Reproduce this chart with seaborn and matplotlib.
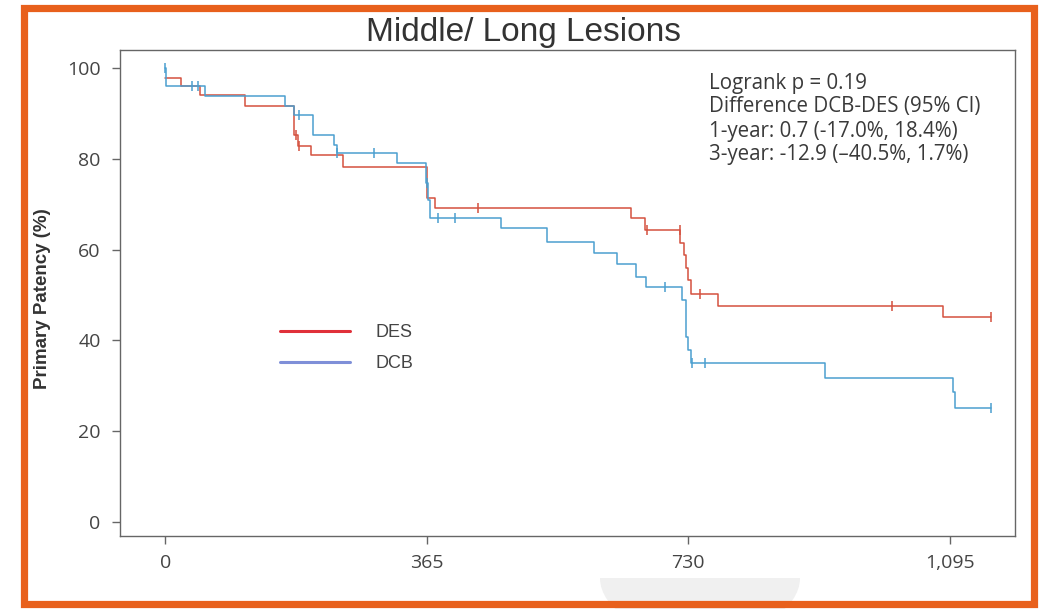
import numpy as np
import pandas as pd
import matplotlib
matplotlib.use("Agg")
import matplotlib.pyplot as plt
import seaborn as sns
from matplotlib.lines import Line2D
from matplotlib.patches import Rectangle, Wedge

# ---- data ----
des_days = [0, 22, 48, 111, 180, 186, 203, 248, 365, 376, 650, 670, 719, 724, 727, 730, 734, 772, 1085, 1152]
des_surv = [97.9, 96.0, 94.1, 91.6, 85.2, 82.8, 80.9, 78.3, 71.4, 69.1, 66.9, 64.3, 61.4, 58.8, 55.9, 53.3, 50.2, 47.6, 45.1, 45.1]
des_censor = [182, 187, 436, 672, 718, 746, 1014, 1152]

dcb_days = [0, 1, 55, 167, 180, 207, 235, 240, 323, 364, 367, 370, 468, 533, 599, 630, 657, 671, 721, 727, 730, 734, 921, 1100, 1102, 1152]
dcb_surv = [100, 96.0, 93.9, 91.6, 89.6, 85.2, 83.0, 81.2, 79.0, 74.6, 71.0, 66.9, 64.7, 61.7, 59.3, 56.8, 54.0, 51.7, 48.9, 40.8, 37.9, 35.0, 31.8, 28.7, 25.2, 25.2]
dcb_censor = [0, 38, 46, 187, 240, 291, 365, 381, 405, 697, 735, 753, 1152]

x_ticks = [0, 365, 730, 1095]
x_tick_labels = ["0", "365", "730", "1,095"]
y_ticks = [0, 20, 40, 60, 80, 100]

title = "Middle/ Long Lesions"
ylabel = "Primary Patency (%)"
annot_lines = ["Logrank p = 0.19",
               "Difference DCB-DES (95% CI)",
               "1-year: 0.7 (-17.0%, 18.4%)",
               "3-year: -12.9 (\u201340.5%, 1.7%)"]
legend_labels = ["DES", "DCB"]

curve_colors = {"DES": "#d4513f", "DCB": "#4b9fd0"}
legend_colors = {"DES": "#e0303a", "DCB": "#7f8fd8"}


def step_value(days, surv, t):
    idx = np.searchsorted(np.asarray(days), t, side="right") - 1
    return np.asarray(surv)[idx]


curves = pd.concat([
    pd.DataFrame({"day": des_days, "surv": des_surv, "group": "DES"}),
    pd.DataFrame({"day": dcb_days, "surv": dcb_surv, "group": "DCB"}),
])
cens = pd.concat([
    pd.DataFrame({"day": des_censor, "surv": step_value(des_days, des_surv, des_censor), "group": "DES"}),
    pd.DataFrame({"day": dcb_censor, "surv": step_value(dcb_days, dcb_surv, dcb_censor), "group": "DCB"}),
])

sns.set_style("white")
plt.rcParams["font.family"] = ["Open Sans", "DejaVu Sans"]

fig = plt.figure(figsize=(10.48, 6.09), dpi=100)
W, H = 1048, 609
ax = fig.add_axes([120 / W, 1 - 536 / H, (1015 - 120) / W, (536 - 50) / H])

for g in ["DES", "DCB"]:
    sub = curves[curves.group == g]
    sns.lineplot(data=sub, x="day", y="surv", ax=ax, color=curve_colors[g],
                 drawstyle="steps-post", estimator=None, linewidth=1.1, legend=False)
    subc = cens[cens.group == g]
    sns.scatterplot(data=subc, x="day", y="surv", ax=ax, marker="|", s=55,
                    color=curve_colors[g], linewidth=1.1, legend=False, zorder=3)

ax.set_xlim(-63, 1186)
ax.set_ylim(-3.1, 104)
ax.set_xticks(x_ticks)
ax.set_xticklabels(x_tick_labels)
ax.set_yticks(y_ticks)
ax.set_xlabel("")
ax.set_ylabel(ylabel, family="Liberation Sans", fontweight="bold", fontsize=13.5, color="#333333")
ax.yaxis.set_label_coords(-0.077, 0.489)

for sp in ax.spines.values():
    sp.set_color("#666666")
    sp.set_linewidth(1.0)
    sp.set_visible(True)
ax.tick_params(axis="both", direction="out", length=6, width=1.0, color="#666666",
               labelsize=14, labelcolor="#444444", pad=7)
ax.tick_params(axis="y", left=True, pad=8)
ax.tick_params(axis="x", bottom=True)

# annotation
ys = [0.932, 0.883, 0.833, 0.786]
for txt, yy in zip(annot_lines, ys):
    ax.text(0.658, yy, txt, transform=ax.transAxes, ha="left", va="center",
            fontsize=14.8, color="#3a3a3a")

# legend
handles = [Line2D([0], [0], color=legend_colors[l], lw=2.2) for l in legend_labels]
ax.legend(handles, legend_labels, loc="upper left",
          bbox_to_anchor=((280 - 120) / 895, (536 - 324) / 486),
          frameon=False, borderpad=0, borderaxespad=0, handlelength=3.9,
          handletextpad=1.4, labelspacing=0.8,
          prop={"family": "Liberation Sans", "size": 13}, labelcolor="#444444")

# title centred on the figure
fig.text(0.5, 1 - 32 / H, title, ha="center", va="center",
         family="Liberation Sans", fontsize=24, color="#333333")

# faint watermark and orange frame
fig.patches.append(Wedge((700 / W, 1 - 578 / H), 100 / W, 180, 360,
                         transform=fig.transFigure, facecolor="#f0f0f0",
                         edgecolor="none", zorder=0))
fig.patches.append(Rectangle((23.5 / W, 1 - 604 / H), (1034 - 23.5) / W, (604 - 8) / H,
                             transform=fig.transFigure, fill=False,
                             edgecolor="#e8601c", linewidth=5.2, zorder=5))

fig.savefig("out.png", dpi=100)
